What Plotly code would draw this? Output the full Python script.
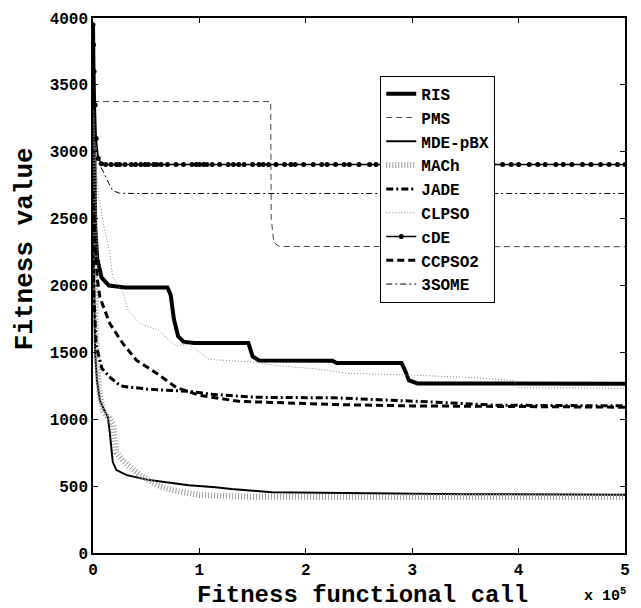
import plotly.graph_objects as go

# x values in units of 1e5 fitness function calls
ris_x = [0, 0.005, 0.01, 0.02, 0.04, 0.08, 0.15, 0.3, 0.7, 0.73, 0.76, 0.8, 0.85, 0.95, 1.46, 1.5, 1.56, 2.25, 2.29, 2.9, 2.93, 2.97, 3.05, 5.0]
ris_y = [3950, 3500, 2900, 2450, 2200, 2060, 2000, 1985, 1985, 1930, 1750, 1620, 1580, 1570, 1570, 1470, 1440, 1437, 1420, 1420, 1370, 1290, 1268, 1265]

pms_x = [0, 1.67, 1.675, 1.7, 1.75, 5.0]
pms_y = [3375, 3375, 2500, 2320, 2292, 2290]

mde_x = [0, 0.01, 0.02, 0.037, 0.065, 0.093, 0.14, 0.158, 0.186, 0.22, 0.317, 0.53, 0.9, 1.15, 1.3, 1.68, 2.3, 3.5, 5.0]
mde_y = [2600, 1900, 1500, 1290, 1140, 1090, 1015, 900, 680, 620, 582, 545, 507, 492, 478, 455, 448, 440, 435]

mach_x = [0, 0.01, 0.03, 0.06, 0.1, 0.15, 0.19, 0.22, 0.28, 0.44, 0.6, 0.75, 1.0, 1.5, 2.5, 5.0]
mach_y = [3300, 2500, 1600, 1200, 1050, 1010, 960, 750, 694, 582, 507, 470, 433, 420, 418, 418]

jade_x = [0, 0.01, 0.03, 0.084, 0.16, 0.23, 0.28, 0.53, 0.9, 1.12, 1.53, 2.27, 3.04, 3.8, 5.0]
jade_y = [2300, 1900, 1550, 1380, 1313, 1268, 1246, 1224, 1209, 1187, 1164, 1160, 1134, 1105, 1100]

clpso_x = [0, 0.02, 0.05, 0.1, 0.158, 0.186, 0.28, 0.33, 0.44, 0.62, 0.72, 0.78, 0.9, 1.0, 1.09, 1.53, 1.71, 2.14, 2.39, 2.79, 3.54, 3.95, 4.0, 5.0]
clpso_y = [3400, 3000, 2700, 2450, 2239, 2060, 1950, 1813, 1716, 1664, 1590, 1552, 1560, 1500, 1448, 1425, 1403, 1373, 1343, 1336, 1313, 1291, 1235, 1231]

cde_x = [0, 0.005, 0.01, 0.02, 0.03, 0.05, 0.08, 0.12, 0.17, 0.22, 0.25, 0.3, 0.36, 0.4, 0.45, 0.49, 0.52, 0.57, 0.6, 0.64, 0.7,
         0.78, 0.85, 0.93, 0.97, 1.0, 1.04, 1.07, 1.12, 1.19, 1.27, 1.32, 1.37, 1.42, 1.5, 1.56, 1.6, 1.65, 1.72, 1.8,
         1.86, 1.9, 1.98, 2.07, 2.15, 2.2, 2.28, 2.36, 2.41, 2.5, 2.6, 2.66, 2.73, 2.8, 2.9, 2.97, 3.05, 3.12, 3.2,
         3.3, 3.36, 3.45, 3.52, 3.6, 3.7, 3.76, 3.85, 3.93, 4.0, 4.1, 4.18, 4.25, 4.35, 4.42, 4.5, 4.6, 4.68, 4.77, 4.85, 4.93, 5.0]
cde_y = [3950, 3800, 3600, 3350, 3100, 2950, 2910] + [2905] * (len(cde_x) - 7)

ccpso_x = [0, 0.02, 0.04, 0.065, 0.158, 0.28, 0.41, 0.6, 0.78, 1.0, 1.37, 2.27, 3.0, 4.0, 5.0]
ccpso_y = [2700, 2300, 2050, 1910, 1716, 1567, 1440, 1343, 1239, 1179, 1134, 1110, 1100, 1094, 1090]

some_x = [0, 0.01, 0.03, 0.06, 0.093, 0.15, 0.186, 0.25, 0.4, 5.0]
some_y = [3400, 3300, 3050, 2900, 2858, 2760, 2709, 2690, 2688, 2688]

x_ticks = [0, 1, 2, 3, 4, 5]
x_tick_text = ["0", "1", "2", "3", "4", "5"]

FONT = "Liberation Mono"

fig = go.Figure()
fig.add_trace(go.Scatter(x=ris_x, y=ris_y, name="RIS", mode="lines",
                         line=dict(color="black", width=4)))
fig.add_trace(go.Scatter(x=pms_x, y=pms_y, name="PMS", mode="lines",
                         line=dict(color="#444444", width=1, dash="6px,4px")))
fig.add_trace(go.Scatter(x=mde_x, y=mde_y, name="MDE-pBX", mode="lines",
                         line=dict(color="black", width=2)))
fig.add_trace(go.Scatter(x=mach_x, y=mach_y, name="MACh", mode="lines",
                         line=dict(color="#9a9a9a", width=6, dash="1px,2px")))
fig.add_trace(go.Scatter(x=jade_x, y=jade_y, name="JADE", mode="lines",
                         line=dict(color="black", width=3, dash="7px,3px,2px,3px")))
fig.add_trace(go.Scatter(x=clpso_x, y=clpso_y, name="CLPSO", mode="lines",
                         line=dict(color="#888888", width=1, dash="1px,2px")))
fig.add_trace(go.Scatter(x=cde_x, y=cde_y, name="cDE", mode="lines+markers",
                         line=dict(color="black", width=1.5),
                         marker=dict(color="black", size=5)))
fig.add_trace(go.Scatter(x=ccpso_x, y=ccpso_y, name="CCPSO2", mode="lines",
                         line=dict(color="black", width=3, dash="7px,4px")))
fig.add_trace(go.Scatter(x=some_x, y=some_y, name="3SOME", mode="lines",
                         line=dict(color="black", width=1, dash="6px,3px,2px,3px")))

axis_common = dict(showline=True, linecolor="black", linewidth=1.5, mirror="ticks",
                   ticks="inside", ticklen=5, tickcolor="black", showgrid=False, zeroline=False,
                   tickfont=dict(family=FONT, size=16, color="black", weight="bold"))

fig.update_layout(
    width=641, height=608,
    margin=dict(l=93, r=11, t=17, b=55),
    plot_bgcolor="white", paper_bgcolor="white",
    font=dict(family=FONT, color="black"),
    xaxis=dict(range=[0, 5], tickvals=x_ticks, ticktext=x_tick_text, ticklabelstandoff=1,
               **axis_common),
    yaxis=dict(range=[0, 4000], dtick=500, **axis_common),
    legend=dict(x=0.54, y=0.892, xanchor="left", yanchor="top",
                bgcolor="white", bordercolor="black", borderwidth=1,
                font=dict(family=FONT, size=16, color="black", weight="bold"),
                itemwidth=30, tracegroupgap=0),
    showlegend=True,
)
# axis titles
fig.add_annotation(x=0.506, y=-0.080, xref="paper", yref="paper", xanchor="center", yanchor="middle",
                   text="Fitness functional call", showarrow=False,
                   font=dict(family=FONT, size=24, color="black", weight="bold"))
fig.add_annotation(x=-0.1285, y=0.569, xref="paper", yref="paper", xanchor="center", yanchor="middle",
                   text="Fitness value", showarrow=False, textangle=-90,
                   font=dict(family=FONT, size=26, color="black", weight="bold"))
fig.add_annotation(x=1.006, y=-0.078, xref="paper", yref="paper", xanchor="right", yanchor="middle",
                   text="x 10<sup>5</sup>", showarrow=False,
                   font=dict(family=FONT, size=15, color="black", weight="bold"))

fig.write_html("out.html")
